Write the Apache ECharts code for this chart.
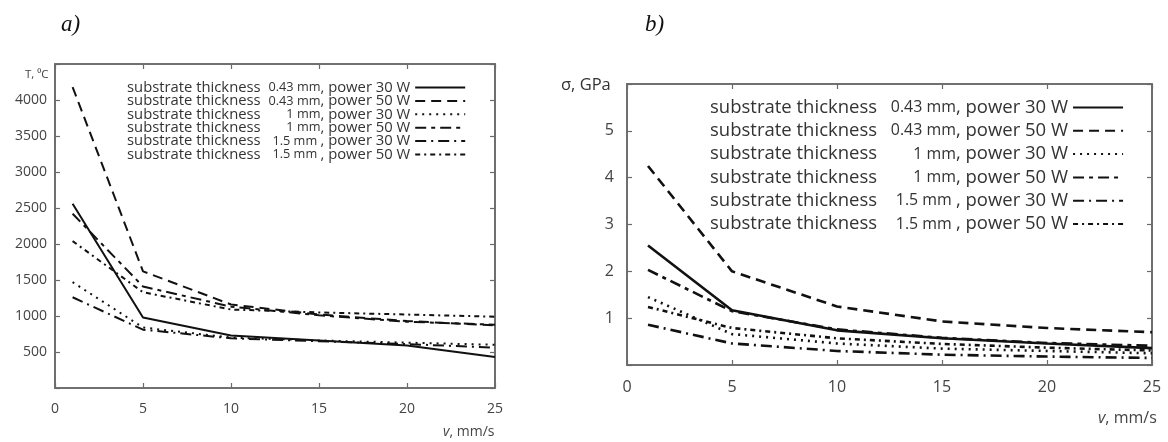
<!DOCTYPE html>
<html><head><meta charset="utf-8">
<script src="https://cdn.jsdelivr.net/npm/echarts@6/dist/echarts.min.js"></script>
<style>body{margin:0;background:#fff}#a{position:absolute;left:0;top:0;width:540px;height:442px}#b{position:absolute;left:540px;top:0;width:628px;height:442px}</style>
</head><body><div id="a"></div><div id="b"></div>
<script>
// x values: scanning speed v, mm/s
const speeds = [1, 5, 10, 15, 20, 25];
const thickLabels = ['0.43 mm', '0.43 mm', '1 mm', '1 mm', '1.5 mm ', '1.5 mm '];
const powerLabels = ['30 W', '50 W', '30 W', '50 W', '30 W', '50 W'];
const xTicks = [0, 5, 10, 15, 20, 25];

// a) temperature T, °C
const tempT043P30 = [2560, 980, 730, 660, 590, 430];
const tempT043P50 = [4180, 1620, 1160, 1020, 930, 870];
const tempT1P30   = [1470, 840, 700, 660, 630, 600];
const tempT1P50   = [2420, 1410, 1130, 1010, 920, 880];
const tempT15P30  = [1260, 810, 690, 650, 610, 560];
const tempT15P50  = [2040, 1330, 1090, 1050, 1020, 990];

// b) stress σ, GPa
const sigT043P30 = [2.55, 1.17, 0.74, 0.57, 0.46, 0.36];
const sigT043P50 = [4.25, 2.0, 1.25, 0.93, 0.79, 0.70];
const sigT1P30   = [1.45, 0.66, 0.46, 0.35, 0.30, 0.25];
const sigT1P50   = [2.03, 1.15, 0.76, 0.58, 0.47, 0.41];
const sigT15P30  = [0.86, 0.46, 0.30, 0.22, 0.18, 0.15];
const sigT15P50  = [1.24, 0.79, 0.57, 0.45, 0.37, 0.31];

const dashTypes = ['solid', [10, 6], [2, 5], [11, 5, 4, 5], [11, 5, 2, 5], [5, 4, 2, 4]];
const names = thickLabels.map((t, i) => 'substrate thickness ' + t + ', power ' + powerLabels[i]);

function build(el, cfg) {
  const chart = echarts.init(el);
  const font = 'Open Sans';
  const axisColor = '#6a6a6a';
  const series = cfg.data.map((arr, i) => ({
    name: names[i], type: 'line', symbol: 'none', showSymbol: false,
    xAxisIndex: i % 2, yAxisIndex: i % 2,
    data: speeds.map((x, j) => [x, arr[j]]),
    lineStyle: { color: '#111', width: cfg.lw, type: dashTypes[i] },
    itemStyle: { color: '#111' }
  }));
  const axCommon = () => ({
    show: true,
    axisLine: { show: true, onZero: false, lineStyle: { color: axisColor, width: 1.6 } },
    axisTick: { show: true, inside: true, length: 5, lineStyle: { color: axisColor, width: 1.2 } },
    splitLine: { show: false }
  });
  chart.setOption({
    animation: false,
    title: cfg.titles,
    grid: Object.assign({ show: true, borderColor: axisColor, borderWidth: 1.6, backgroundColor: 'transparent' }, cfg.grid),
    legend: {
      orient: 'vertical', align: 'right', left: cfg.legLeft, top: cfg.legTop,
      itemWidth: cfg.iconW, itemHeight: 10, itemGap: cfg.legGap, selectedMode: false,
      itemStyle: { opacity: 0 },
      data: names,
      formatter: function (n) {
        const i = names.indexOf(n);
        return '{a|substrate thickness }{b|' + thickLabels[i] + '}{a|, power ' + powerLabels[i] + '}';
      },
      textStyle: {
        color: '#333', fontFamily: font,
        rich: {
          a: { fontSize: cfg.legFs, fontFamily: font, color: '#333', lineHeight: cfg.legLh },
          b: { fontSize: cfg.legFs * 0.86, fontFamily: font, color: '#333', width: cfg.bW, align: 'right', lineHeight: cfg.legLh }
        }
      }
    },
    xAxis: [
      Object.assign({ type: 'value', position: 'bottom', min: 0, max: 25, interval: 5,
        axisLabel: { color: '#444', fontFamily: font, fontSize: cfg.fs, margin: cfg.xMargin } }, axCommon()),
      Object.assign({ type: 'value', position: 'top', min: 0, max: 25, interval: 5,
        axisLabel: { show: false } }, axCommon())
    ],
    yAxis: [
      Object.assign({ type: 'value', position: 'left', min: 0, max: cfg.yMax, interval: cfg.yInt,
        axisLabel: { color: '#444', fontFamily: font, fontSize: cfg.fs, margin: cfg.yMargin,
          formatter: v => (v === 0 || v === cfg.yMax) ? '' : String(v) } }, axCommon()),
      Object.assign({ type: 'value', position: 'right', min: 0, max: cfg.yMax, interval: cfg.yInt,
        axisLabel: { show: false } }, axCommon())
    ],
    series: series
  });
}

const serif = { fontFamily: 'Liberation Serif', fontStyle: 'italic', fontSize: 23, fontWeight: 'normal', color: '#111' };

build(document.getElementById('a'), {
  data: [tempT043P30, tempT043P50, tempT1P30, tempT1P50, tempT15P30, tempT15P50],
  grid: { left: 55, top: 64, width: 440, height: 324 },
  yMax: 4500, yInt: 500, fs: 14, xMargin: 14, yMargin: 8, lw: 2,
  legLeft: 122, legTop: 75, legGap: -1.6, legFs: 14.8, legLh: 12, bW: 56, iconW: 50,
  titles: [
    { text: 'a)', left: 56, top: 8, textStyle: serif },
    { text: 'T, \u2070C', left: 20, top: 64, textStyle: { fontFamily: 'Open Sans', fontSize: 11.5, fontWeight: 'normal', color: '#444' } },
    { text: '{i|v}, mm/s', left: 438, top: 420, textStyle: { fontFamily: 'Open Sans', fontSize: 14, fontWeight: 'normal', color: '#444',
        rich: { i: { fontStyle: 'italic', fontFamily: 'Open Sans', fontSize: 14, color: '#444' } } } }
  ]
});

build(document.getElementById('b'), {
  data: [sigT043P30, sigT043P50, sigT1P30, sigT1P50, sigT15P30, sigT15P50],
  grid: { left: 87, top: 84, width: 525, height: 281 },
  yMax: 6, yInt: 1, fs: 16, xMargin: 14, yMargin: 13, lw: 2.6,
  legLeft: 165, legTop: 93, legGap: 4.3, legFs: 18.5, legLh: 16, bW: 74, iconW: 50,
  titles: [
    { text: 'b)', left: 100, top: 8, textStyle: serif },
    { text: '\u03c3, GPa', left: 16, top: 72, textStyle: { fontFamily: 'Open Sans', fontSize: 16.5, fontWeight: 'normal', color: '#333' } },
    { text: '{i|v}, mm/s', left: 553, top: 405, textStyle: { fontFamily: 'Open Sans', fontSize: 16, fontWeight: 'normal', color: '#444',
        rich: { i: { fontStyle: 'italic', fontFamily: 'Open Sans', fontSize: 16, color: '#444' } } } }
  ]
});
</script></body></html>
